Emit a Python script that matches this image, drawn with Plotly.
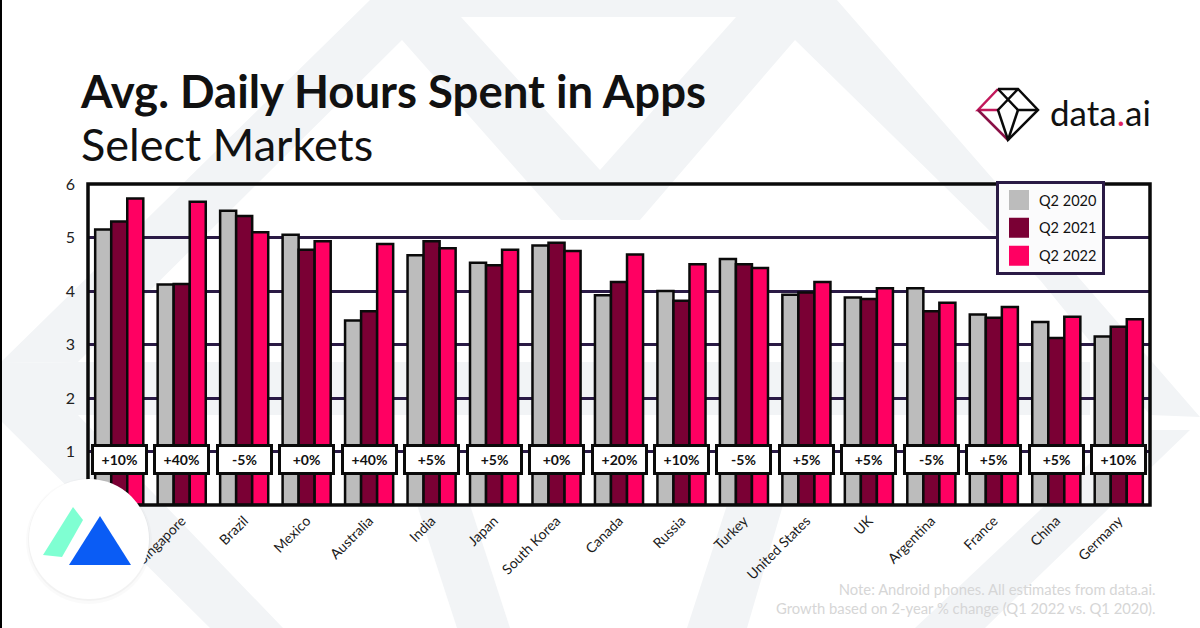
import plotly.graph_objects as go

# ---- data ----
markets = ["Indonesia", "Singapore", "Brazil", "Mexico", "Australia", "India", "Japan",
           "South Korea", "Canada", "Russia", "Turkey", "United States", "UK",
           "Argentina", "France", "China", "Germany"]
q2_2020 = [5.15, 4.12, 5.50, 5.05, 3.45, 4.67, 4.53, 4.85, 3.92, 4.00, 4.60, 3.93, 3.88, 4.05, 3.56, 3.42, 3.15]
q2_2021 = [5.30, 4.13, 5.40, 4.77, 3.62, 4.93, 4.48, 4.90, 4.17, 3.82, 4.50, 3.97, 3.85, 3.62, 3.50, 3.12, 3.33]
q2_2022 = [5.73, 5.67, 5.10, 4.93, 4.88, 4.80, 4.77, 4.75, 4.68, 4.50, 4.43, 4.17, 4.05, 3.78, 3.70, 3.52, 3.47]
growth = ["+10%", "+40%", "-5%", "+0%", "+40%", "+5%", "+5%", "+0%", "+20%", "+10%",
          "-5%", "+5%", "+5%", "-5%", "+5%", "+5%", "+10%"]
series_names = ["Q2 2020", "Q2 2021", "Q2 2022"]
series_colors = ["#bcbcbc", "#7a0034", "#ff0062"]
y_ticks = [1, 2, 3, 4, 5, 6]

FONT = "Lato"
INK = "#111111"
GRID = "#2a1a45"
PALE = "#f2f4f6"
L, R, T, B = 88, 1150, 184, 505


def px(x):
    return (x - L) / (R - L)


def py(y):
    return (B - y) / (B - T)


def poly(points, fill, layer="below", line=None, width=0, opacity=1, close=True):
    d = "M" + " L".join(f"{px(a):.5f},{py(b):.5f}" for a, b in points) + (" Z" if close else "")
    return dict(type="path", path=d, xref="paper", yref="paper", layer=layer, opacity=opacity,
                fillcolor=fill if close else "rgba(0,0,0,0)",
                line=dict(color=line or "rgba(0,0,0,0)", width=width))


def disc(cx, cy, r, fill, opacity=1):
    return dict(type="circle", xref="paper", yref="paper", layer="above", opacity=opacity,
                x0=px(cx - r), x1=px(cx + r), y0=py(cy + r), y1=py(cy - r),
                fillcolor=fill, line=dict(width=0))


fig = go.Figure()
for name, vals, col in zip(series_names, [q2_2020, q2_2021, q2_2022], series_colors):
    fig.add_trace(go.Bar(x=markets, y=vals, name=name, showlegend=False,
                         marker=dict(color=col, line=dict(color="#0a0a0a", width=2.5))))
for name, col in zip(series_names, series_colors):
    fig.add_trace(go.Scatter(x=[None], y=[None], mode="markers", name=name, legendgroup=name,
                             marker=dict(symbol="square", size=16, color=col,
                                         line=dict(color=col, width=4))))

shapes = [
    # pale background pattern
    poly([(370, 0), (837, 0), (1147, 356), (1200, 417), (1150, 415), (1040, 280), (795, 40), (640, 220),
          (561, 220), (402, 40), (78, 362), (0, 363)], PALE),
    poly([(461, 17), (736, 17), (600, 170)], "#ffffff"),
    poly([(78, 362), (1090, 362), (1090, 415), (78, 415)], PALE),
    poly([(0, 363), (78, 362), (78, 415), (283, 628), (210, 628), (0, 420)], PALE),
    poly([(417, 505), (470, 505), (510, 628), (457, 628)], PALE),
    poly([(727, 505), (783, 505), (747, 628), (687, 628)], PALE),
    poly([(1125, 430), (1190, 430), (985, 628), (915, 628)], PALE),
    # plot frame
    dict(type="rect", xref="paper", yref="paper", x0=0, x1=1, y0=0, y1=1, layer="above",
         fillcolor="rgba(0,0,0,0)", line=dict(color="#0a0a0a", width=3.5)),
    # left edge strip
    poly([(0, 0), (2, 0), (2, 628), (0, 628)], "#000000", layer="above"),
    # badge
    disc(89, 541, 63, "#000000", 0.02),
    disc(89, 540, 61, "#000000", 0.03),
    disc(89, 539, 60, "#ffffff"),
    poly([(43, 555), (73, 507), (83, 520), (62, 557)], "#7fffd2", layer="above"),
    poly([(100, 516), (131, 565), (69, 565)], "#0a5cf5", layer="above"),
    # brand mark
    poly([(998, 110), (978, 110), (998, 89)], "rgba(0,0,0,0)", layer="above", line="#c2185b", width=2.5, close=False),
    poly([(978, 110), (1008, 140)], "rgba(0,0,0,0)", layer="above", line="#8a1046", width=2.5, close=False),
    poly([(998, 89), (1018, 89), (1038, 110), (1008, 140), (998, 110), (1018, 89)], "rgba(0,0,0,0)",
         layer="above", line="#0a0a0a", width=2.5, close=False),
    poly([(998, 89), (1018, 110), (1038, 110)], "rgba(0,0,0,0)", layer="above", line="#0a0a0a", width=2.5, close=False),
    poly([(1018, 110), (1008, 140)], "rgba(0,0,0,0)", layer="above", line="#0a0a0a", width=2.5, close=False),
]

annotations = [
    dict(text="Select Markets", xref="paper", yref="paper", x=px(79), y=py(144), xanchor="left",
         yanchor="middle", showarrow=False, font=dict(family=FONT, size=45, color=INK)),
    dict(text='data<span style="color:#e0245e">.</span>ai', xref="paper", yref="paper", x=px(1048), y=py(112),
         xanchor="left", yanchor="middle", showarrow=False, font=dict(family=FONT, size=35, color=INK)),
    dict(text="Note: Android phones. All estimates from data.ai.<br>Growth based on 2-year % change (Q1 2022 vs. Q1 2020).",
         xref="paper", yref="paper", x=px(1157), y=py(598), xanchor="right", yanchor="middle", align="right",
         showarrow=False, font=dict(family=FONT, size=14.8, color="#d6d6d6")),
]
for m, g in zip(markets, growth):
    annotations.append(dict(x=m, y=0.85, xref="x", yref="y", text=g, showarrow=False, width=51, height=25,
                            bgcolor="#ffffff", bordercolor="#0a0a0a", borderwidth=3, borderpad=0,
                            font=dict(family=FONT, size=14, color=INK, weight=700)))

fig.update_layout(
    width=1200, height=628, autosize=False,
    margin=dict(l=L, r=1200 - R, t=T, b=628 - B),
    paper_bgcolor="#ffffff", plot_bgcolor="rgba(0,0,0,0)",
    barmode="group", bargap=0.23, bargroupgap=0,
    font=dict(family=FONT, color=INK),
    title=dict(text="<b>Avg. Daily Hours Spent in Apps</b>", xref="container", yref="container",
               x=81 / 1200, y=1 - 92 / 628, xanchor="left", yanchor="middle",
               font=dict(family=FONT, size=45.5, color=INK)),
    xaxis=dict(range=[-0.5, 16.5], showgrid=False, showline=False, ticklabelstandoff=4,
               tickangle=-45, ticklen=0, ticks="", tickfont=dict(family=FONT, size=14, color="#1a1a1a")),
    yaxis=dict(range=[0, 6], tickvals=y_ticks, showgrid=True, gridcolor=GRID, gridwidth=3, zeroline=False,
               showline=False, ticks="", ticklen=0, ticklabelstandoff=12,
               tickfont=dict(family=FONT, size=16, color="#222222")),
    legend=dict(x=px(996), y=py(181), xanchor="left", yanchor="top", traceorder="grouped", tracegroupgap=6,
                itemwidth=30, entrywidth=80, entrywidthmode="pixels", bgcolor="#fbfbfc", bordercolor=GRID,
                borderwidth=3, font=dict(family=FONT, size=14.5, color=INK), itemsizing="trace"),
    shapes=shapes, annotations=annotations,
)

fig.write_html("out.html", config={"displayModeBar": False}, post_script="document.body.style.margin='0';")
